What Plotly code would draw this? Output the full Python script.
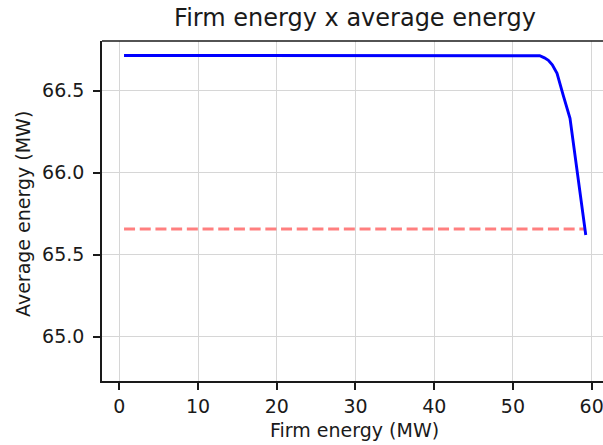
import plotly.graph_objects as go

# Data
firm_energy = [0.6, 10, 20, 30, 40, 50, 52.5, 53.4, 54.0, 54.5, 55.0, 55.6, 56.4, 57.25, 59.25]
average_energy = [66.715, 66.715, 66.715, 66.715, 66.715, 66.715, 66.715, 66.713, 66.70, 66.685, 66.658, 66.606, 66.47, 66.332, 65.62]
reference_x = [0.6, 59.2]
reference_y = [65.657, 65.657]

x_ticks = [0, 10, 20, 30, 40, 50, 60]
y_ticks = [65.0, 65.5, 66.0, 66.5]
y_tick_labels = ["65.0", "65.5", "66.0", "66.5"]

font_family = "DejaVu Sans"
text_color = "#1a1a1a"
W, H = 603, 445
ML, MR, MT, MB = 102, 0, 41, 64

fig = go.Figure()
fig.add_trace(go.Scatter(x=reference_x, y=reference_y, mode="lines",
                         line=dict(color="rgba(255,0,0,0.5)", width=2.9, dash="11px,4.7px"),
                         showlegend=False, hoverinfo="skip"))
fig.add_trace(go.Scatter(x=firm_energy, y=average_energy, mode="lines",
                         line=dict(color="#0000ff", width=2.9),
                         showlegend=False))

axis_common = dict(
    showgrid=True, gridcolor="#d6d6d6", gridwidth=1.4,
    showline=True, linecolor="#1a1a1a", linewidth=1.6,
    ticks="outside", ticklen=7, tickwidth=1.6, tickcolor="#1a1a1a",
    tickfont=dict(family=font_family, size=19, color=text_color),
    zeroline=False, mirror=False, automargin=False, ticklabeloverflow="allow",
)

fig.update_layout(
    width=W, height=H,
    margin=dict(l=ML, r=MR, t=MT, b=MB),
    paper_bgcolor="white", plot_bgcolor="white",
    title=dict(text="Firm energy x average energy", x=(355 / W), xanchor="center",
               y=1 - 18 / H, yanchor="middle",
               font=dict(family=font_family, size=24, color=text_color)),
    xaxis=dict(range=[-2.2, 61.44], tickvals=x_ticks, **axis_common),
    yaxis=dict(range=[64.73, 66.803], tickvals=y_ticks, ticktext=y_tick_labels,
               ticklabelstandoff=5, **axis_common),
)

pw = W - ML - MR
ph = H - MT - MB
# axis titles as annotations placed like the reference
fig.add_annotation(text="Firm energy (MW)", xref="paper", yref="paper",
                   x=(354 - ML) / pw, y=-(430 - (H - MB)) / ph,
                   xanchor="center", yanchor="middle", showarrow=False,
                   font=dict(family=font_family, size=19, color=text_color))
fig.add_annotation(text="Average energy (MW)", xref="paper", yref="paper",
                   x=-(ML - 23) / pw, y=1 - (214 - MT) / ph, textangle=-90,
                   xanchor="center", yanchor="middle", showarrow=False,
                   font=dict(family=font_family, size=19, color=text_color))

# top spine (matplotlib frame; the right spine is outside the picture)
fig.add_shape(type="line", xref="paper", yref="paper", x0=0, x1=1, y0=1, y1=1,
              line=dict(color="#1a1a1a", width=1.6))

fig.write_html("out.html", config={"displayModeBar": False},
               post_script="document.body.style.margin='0';document.body.style.overflow='hidden';")
